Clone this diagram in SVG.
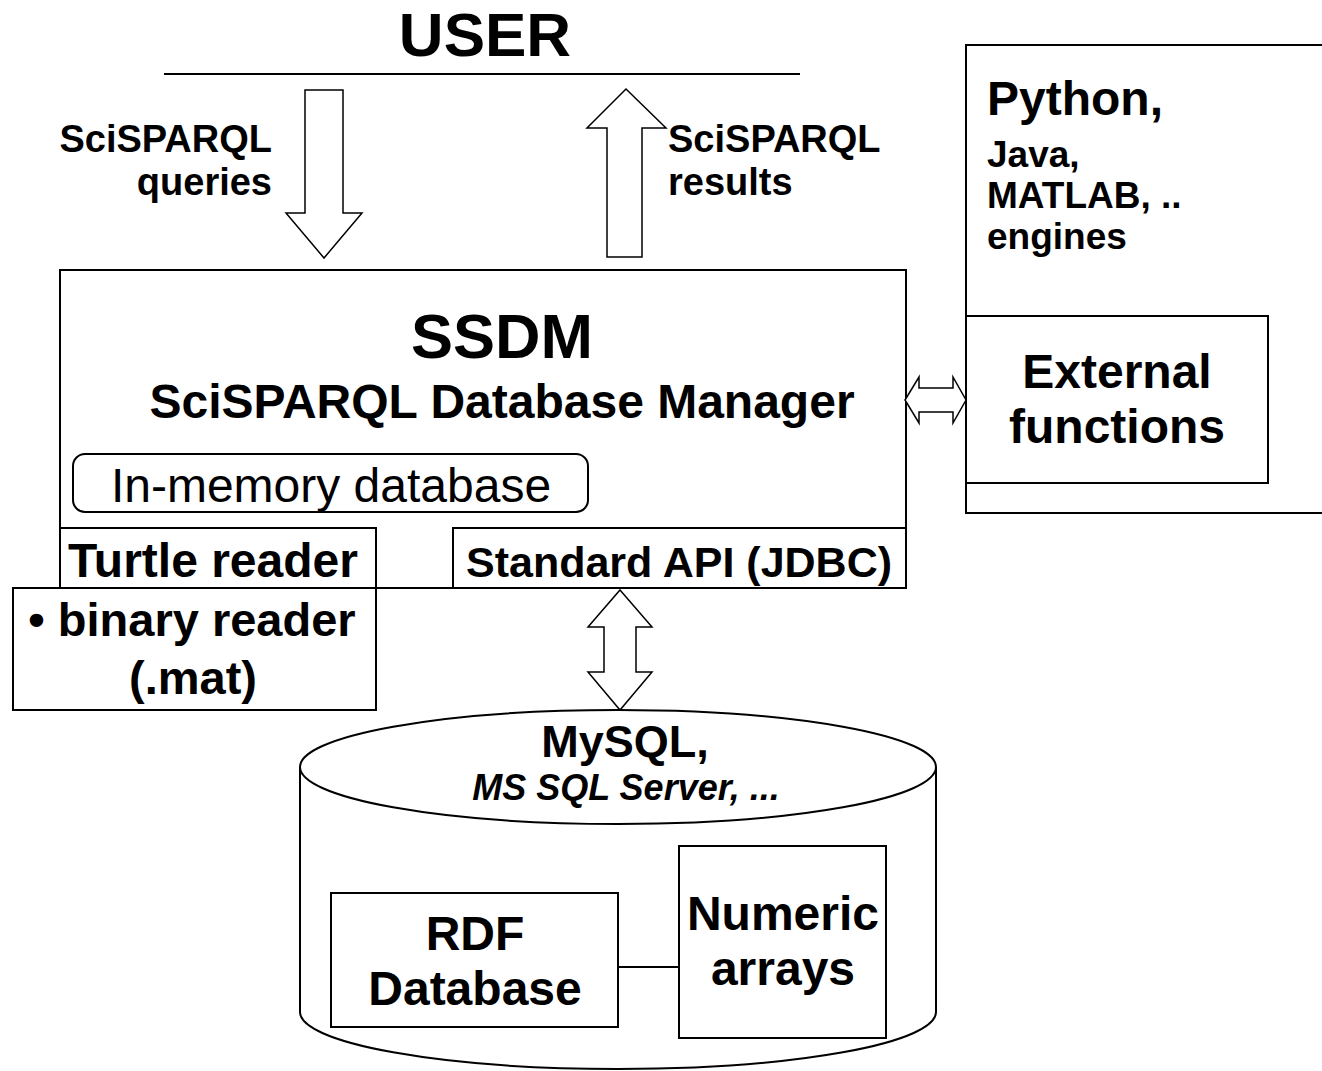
<svg xmlns="http://www.w3.org/2000/svg" width="1322" height="1071" viewBox="0 0 1322 1071">
<style>
.box{fill:#fff;stroke:#000;stroke-width:2}
.arr{fill:#fff;stroke:#000;stroke-width:1.5;stroke-linejoin:miter}
text{font-family:"Liberation Sans",Arial,sans-serif;fill:#000}
.b{font-weight:bold}
.m{text-anchor:middle}
.e{text-anchor:end}
</style>
<rect x="0" y="0" width="1322" height="1071" fill="#fff"/>
<g id="user">
<text class="b m" x="485" y="56" font-size="62">USER</text>
<line x1="164" y1="74" x2="800" y2="74" stroke="#000" stroke-width="2"/>
</g>
<g id="external">
<rect class="box" x="966" y="45" width="400" height="468"/>
<text class="b" x="987" y="115" font-size="48">Python,</text>
<text class="b" x="987" y="167" font-size="37">Java,</text>
<text class="b" x="987" y="208" font-size="37">MATLAB, ..</text>
<text class="b" x="987" y="249" font-size="37">engines</text>
<rect class="box" x="966" y="316" width="302" height="167"/>
<text class="b m" x="1117" y="388" font-size="48">External</text>
<text class="b m" x="1117" y="443" font-size="48">functions</text>
</g>
<g id="ssdm">
<rect class="box" x="60" y="270" width="846" height="318"/>
<text class="b m" x="502" y="358" font-size="63">SSDM</text>
<text class="b m" x="502" y="418" font-size="48">SciSPARQL Database Manager</text>
</g>
<g id="inmemory">
<rect class="box" x="73" y="454" width="515" height="58" rx="12"/>
<text class="m" x="331" y="502" font-size="48">In-memory database</text>
</g>
<g id="turtle">
<rect class="box" x="60" y="528" width="316" height="60"/>
<text class="b m" x="213" y="577" font-size="48">Turtle reader</text>
</g>
<g id="jdbc">
<rect class="box" x="453" y="528" width="453" height="60"/>
<text class="b m" x="679" y="577" font-size="43">Standard API (JDBC)</text>
</g>
<g id="binary">
<rect class="box" x="13" y="588" width="363" height="122"/>
<text class="b m" x="192" y="636" font-size="47">• binary reader</text>
<text class="b m" x="193" y="694" font-size="47">(.mat)</text>
</g>
<g id="database">
<path class="box" d="M300,767 L300,1012 A318,57 0 0 0 936,1012 L936,767"/>
<ellipse class="box" cx="618" cy="767" rx="318" ry="57"/>
<text class="b m" x="625" y="757" font-size="45">MySQL,</text>
<text class="b m" x="626" y="800" font-size="36" font-style="italic">MS SQL Server, ...</text>
</g>
<g id="rdf">
<rect class="box" x="331" y="893" width="287" height="134"/>
<text class="b m" x="475" y="950" font-size="48">RDF</text>
<text class="b m" x="475" y="1005" font-size="48">Database</text>
</g>
<g id="numeric">
<rect class="box" x="679" y="846" width="207" height="192"/>
<text class="b m" x="783" y="930" font-size="48">Numeric</text>
<text class="b m" x="783" y="985" font-size="48">arrays</text>
</g>
<g id="connectors">
<polygon class="arr" points="305,90 343,90 343,213 362,213 324,258 286,213 305,213"/>
<text class="b e" x="272" y="152" font-size="38">SciSPARQL</text>
<text class="b e" x="272" y="195" font-size="38">queries</text>
<polygon class="arr" points="626,89 666,128 642,128 642,257 607,257 607,128 587,128"/>
<text class="b" x="668" y="152" font-size="38">SciSPARQL</text>
<text class="b" x="668" y="195" font-size="38">results</text>
<polygon class="arr" points="905,400 919,377 919,388 953,388 953,377 966,400 953,423 953,412 919,412 919,423"/>
<polygon class="arr" points="620,590 652,627 636,627 636,672 652,672 620,710 588,672 604,672 604,627 588,627"/>
<line x1="618" y1="967" x2="679" y2="967" stroke="#000" stroke-width="2"/>
</g>
</svg>
